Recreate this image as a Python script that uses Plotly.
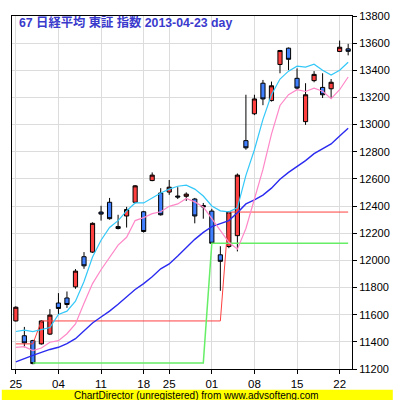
import plotly.graph_objects as go
import pandas as pd

dates = ["2013-02-25","2013-02-26","2013-02-27","2013-02-28","2013-03-01",
         "2013-03-04","2013-03-05","2013-03-06","2013-03-07","2013-03-08",
         "2013-03-11","2013-03-12","2013-03-13","2013-03-14","2013-03-15",
         "2013-03-18","2013-03-21","2013-03-22",
         "2013-03-25","2013-03-26","2013-03-27","2013-03-28","2013-03-29",
         "2013-04-01","2013-04-02","2013-04-03","2013-04-04","2013-04-05",
         "2013-04-08","2013-04-09","2013-04-10","2013-04-11","2013-04-12",
         "2013-04-15","2013-04-16","2013-04-17","2013-04-18","2013-04-19",
         "2013-04-22","2013-04-23"]

open_ = [11554,11445,11409,11385,11457,11686,11723,11805,12027,12061,
         12356,12428,12249,12327,12428,12358,12588,12496,12503,12474,
         12472,12452,12404,12363,12041,12102,12182,12882,13080,13305,
         13177,13443,13563,13341,13022,13324,13274,13264,13539,13558]
high = [11662,11510,11415,11560,11641,11759,11771,11936,12061,12280,
        12402,12460,12336,12394,12555,12365,12648,12532,12592,12539,
        12501,12460,12423,12380,12104,12362,12640,13220,13220,13329,
        13317,13550,13568,13414,13305,13394,13378,13336,13619,13595]
low = [11550,11360,11235,11380,11450,11602,11650,11791,11938,12055,
       12293,12300,12228,12242,12420,12205,12583,12330,12483,12452,
       12438,12273,12307,12120,11776,12090,12066,12815,13070,13143,
       13170,13378,13401,13257,12998,13312,13196,13191,13534,13510]
close = [11655,11392,11240,11554,11597,11646,11675,11921,11960,12273,
         12341,12307,12235,12375,12549,12213,12628,12336,12539,12467,
         12488,12327,12394,12126,11993,12356,12628,12829,13189,13189,
         13286,13546,13481,13269,13220,13370,13220,13312,13570,13540]

ma_fast = [11476,11486,11476,11489,11505,11602,11626,11699,11844,12025,
           12148,12242,12293,12365,12423,12423,12459,12496,12525,12546,
           12554,12525,12474,12401,12365,12358,12387,12626,12815,13039,
           13220,13336,13394,13430,13423,13445,13401,13365,13401,13459]
ma_mid = [11360,11365,11336,11355,11397,11409,11460,11532,11684,11829,
          11931,12025,12112,12170,12293,12315,12344,12358,12398,12416,
          12456,12431,12394,12307,12220,12133,12083,12235,12452,12670,
          12930,13141,13220,13257,13244,13269,13246,13191,13257,13351]
ma_slow = [11252,11278,11300,11322,11344,11360,11387,11423,11481,11539,
           11583,11626,11677,11728,11786,11829,11880,11938,11974,12032,
           12097,12155,12206,12249,12271,12293,12351,12416,12445,12481,
           12532,12597,12648,12691,12735,12786,12822,12858,12916,12974]
res_line = [11385]*3 + [11554]*22 + [12356]*15
sup_line = [None]*2 + [11245]*21 + [12126]*17

title_text = "67 日経平均 東証 指数 2013-04-23 day"
footer_text = "ChartDirector (unregistered) from www.advsofteng.com"

d = pd.to_datetime(pd.Series(dates))
x = list(range(len(dates)))
wk = d.dt.isocalendar().week
tick_idx = [i for i in x if i == 0 or wk[i] != wk[i - 1]]
tick_txt = [d[i].strftime("%d") for i in tick_idx]

fig = go.Figure()
fig.add_trace(go.Scatter(x=x, y=res_line, mode="lines", line=dict(color="#ff4040", width=1)))
fig.add_trace(go.Scatter(x=x, y=sup_line, mode="lines", line=dict(color="#66ee66", width=1.5)))
fig.add_trace(go.Scatter(x=x, y=ma_slow, mode="lines", line=dict(color="#2a2af0", width=1.4)))
fig.add_trace(go.Scatter(x=x, y=ma_mid, mode="lines", line=dict(color="#ff88c8", width=1.2)))
fig.add_trace(go.Scatter(x=x, y=ma_fast, mode="lines", line=dict(color="#33c8f8", width=1.2)))
fig.add_trace(go.Candlestick(
    x=x, open=open_, high=high, low=low, close=close,
    increasing=dict(fillcolor="#ff4040", line=dict(color="#000000", width=1)),
    decreasing=dict(fillcolor="#4080ff", line=dict(color="#000000", width=1)),
    whiskerwidth=0,
))

fig.add_shape(type="rect", xref="paper", yref="paper",
              x0=-0.03, x1=1.12, y0=-0.0585, y1=-0.09,
              fillcolor="#ffff00", line=dict(width=0), layer="above")
fig.add_annotation(text=footer_text, xref="paper", yref="paper",
                   x=0.5413, y=-0.0735, showarrow=False, borderpad=0, height=10,
                   font=dict(family="Liberation Sans", size=10, color="#000000"),
                   xanchor="center", yanchor="middle")
fig.add_annotation(text="<b>" + title_text + "</b>", xref="paper", yref="paper",
                   x=0.016, y=1.0, yshift=3, showarrow=False, xanchor="left", yanchor="top",
                   font=dict(family="Liberation Sans, Noto Sans CJK JP", size=12.3, color="#3a3acc"))

fig.update_layout(
    width=400, height=400,
    margin=dict(l=10, r=39, t=10, b=31),
    paper_bgcolor="#ffffff", plot_bgcolor="#ffffff",
    showlegend=False,
    font=dict(family="Liberation Sans", size=11, color="#000000"),
    xaxis=dict(range=[-0.45, 39.45], tickvals=tick_idx, ticktext=tick_txt,
               showgrid=True, gridcolor="#dcdcdc", gridwidth=1,
               ticks="outside", ticklen=4, tickcolor="#000000",
               showline=True, linecolor="#000000", linewidth=1, mirror=True,
               rangeslider=dict(visible=False), zeroline=False,
               tickfont=dict(size=11.5)),
    yaxis=dict(range=[11200, 13800], dtick=200, side="right", tickformat="d",
               showgrid=True, gridcolor="#dcdcdc", gridwidth=1,
               ticks="outside", ticklen=4, tickcolor="#000000",
               showline=True, linecolor="#000000", linewidth=1, mirror=True,
               zeroline=False, tickfont=dict(size=11)),
)

fig.write_html("out.html", config={"displayModeBar": False},
               post_script="document.body.style.margin='0';document.body.style.padding='0';")
